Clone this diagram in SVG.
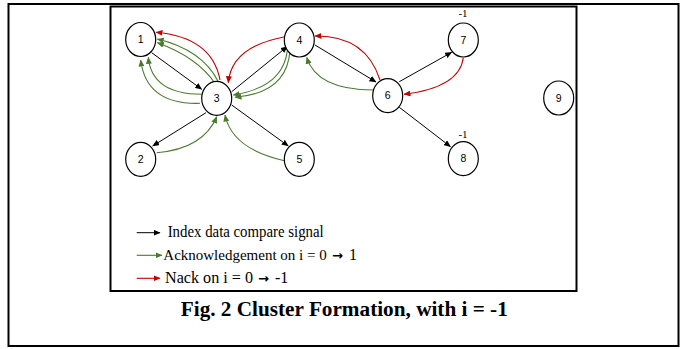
<svg xmlns="http://www.w3.org/2000/svg" width="686" height="349" viewBox="0 0 686 349">
<defs>
<style>
.node ellipse{fill:#fff;stroke:#000;stroke-width:1.2}
.node text{font-family:"Liberation Sans",Arial,sans-serif;font-size:10.5px;fill:#000;text-anchor:middle}
.node text.lbl{font-family:"Liberation Serif","Times New Roman",serif;font-size:11px}
.blk{stroke:#000;stroke-width:1;fill:none;marker-end:url(#ab)}
.grn{stroke:#4a7a2e;stroke-width:1.1;fill:none;marker-end:url(#ag)}
.red{stroke:#c00000;stroke-width:1.1;fill:none;marker-end:url(#ar)}
.leg{font-family:"Liberation Serif","Times New Roman",serif;font-size:16px;fill:#000}
.leg15{font-family:"Liberation Serif","Times New Roman",serif;font-size:15px;fill:#000}
.arw{font-family:"DejaVu Sans",sans-serif;font-weight:bold;font-size:13px;fill:#000}
.cap{font-family:"Liberation Serif","Times New Roman",serif;font-size:20px;font-weight:bold;fill:#000;text-anchor:middle}
</style>
<marker id="ab" markerUnits="userSpaceOnUse" markerWidth="7" markerHeight="6" refX="6.5" refY="3" orient="auto"><path d="M0,0 L7,3 L0,6 z" fill="#000"/></marker>
<marker id="ag" markerUnits="userSpaceOnUse" markerWidth="7" markerHeight="6" refX="6.5" refY="3" orient="auto"><path d="M0,0 L7,3 L0,6 z" fill="#4a7a2e"/></marker>
<marker id="ar" markerUnits="userSpaceOnUse" markerWidth="7" markerHeight="6" refX="6.5" refY="3" orient="auto"><path d="M0,0 L7,3 L0,6 z" fill="#c00000"/></marker>
</defs>
<rect x="0" y="0" width="686" height="349" fill="#fff"/>
<rect x="8.5" y="4" width="670" height="342" fill="none" stroke="#000" stroke-width="2"/>
<rect x="110.5" y="6.5" width="466" height="284.5" fill="none" stroke="#000" stroke-width="2"/>

<g id="connectors">
<path class="blk" d="M151.7,52.7 L201.7,89.3"/>
<path class="blk" d="M231.7,91.7 L287.3,46.5"/>
<path class="blk" d="M206,112.7 L152.7,146"/>
<path class="blk" d="M231.7,105 L288.3,146"/>
<path class="blk" d="M315,45 L376,82"/>
<path class="blk" d="M399.3,81.7 L451.7,52.3"/>
<path class="blk" d="M399.3,107.3 L450.5,146.7"/>
<path class="red" d="M220,80 Q212,37.3 156,32.3"/>
<path class="red" d="M285,36.7 Q231.4,46.7 228.3,82.7"/>
<path class="red" d="M380,80 Q365.8,35.3 315,36"/>
<path class="red" d="M463.3,57.7 Q459.7,87.3 404,94.3"/>
<path class="grn" d="M218.3,81.7 Q202.2,49.7 157.3,39"/>
<path class="grn" d="M215,83.3 Q197.1,57 157.3,42.7"/>
<path class="grn" d="M201.7,94.3 Q151.7,94.2 148.3,57.3"/>
<path class="grn" d="M200,103.3 Q146.3,105 140.7,60"/>
<path class="grn" d="M290,50 Q287.5,93 235,97.3"/>
<path class="grn" d="M287.3,50.7 Q283,87.1 233.3,95"/>
<path class="grn" d="M156.7,152.7 Q203.3,148.7 216.7,116.7"/>
<path class="grn" d="M284.3,160.7 Q232,148.9 225,115"/>
<path class="grn" d="M373.3,90 Q316.7,89.7 306.7,57.3"/>
</g>

<g id="n1" class="node"><ellipse cx="140.7" cy="39.5" rx="15" ry="17"/><text x="140.7" y="43">1</text></g>
<g id="n2" class="node"><ellipse cx="140.7" cy="159.3" rx="15" ry="17"/><text x="140.7" y="163">2</text></g>
<g id="n3" class="node"><ellipse cx="216.7" cy="98.3" rx="15" ry="17"/><text x="216.7" y="102">3</text></g>
<g id="n4" class="node"><ellipse cx="299.3" cy="40" rx="15" ry="17"/><text x="299.3" y="43.5">4</text></g>
<g id="n5" class="node"><ellipse cx="299.3" cy="159.3" rx="15" ry="17"/><text x="299.3" y="163">5</text></g>
<g id="n6" class="node"><ellipse cx="387.7" cy="95.7" rx="15" ry="17"/><text x="387.7" y="99.3">6</text></g>
<g id="n7" class="node"><ellipse cx="463.3" cy="40" rx="15" ry="17"/><text x="463.3" y="43.5">7</text><text class="lbl" x="463" y="17">-1</text></g>
<g id="n8" class="node"><ellipse cx="463.3" cy="158.7" rx="15" ry="17"/><text x="463.3" y="162.3">8</text><text class="lbl" x="463" y="138">-1</text></g>
<g id="n9" class="node"><ellipse cx="558.7" cy="98" rx="15" ry="17"/><text x="558.7" y="101.5">9</text></g>

<g id="legend">
<line x1="136.7" y1="232.7" x2="160" y2="232.7" stroke="#000" stroke-width="1" marker-end="url(#ab)"/>
<text class="leg" x="167.7" y="237" textLength="156" lengthAdjust="spacingAndGlyphs">Index data compare signal</text>
<line x1="136.7" y1="255.3" x2="162" y2="255.3" stroke="#4a7a2e" stroke-width="1.1" marker-end="url(#ag)"/>
<text class="leg15" x="163.3" y="260">Acknowledgement on i = 0</text>
<text class="arw" x="332" y="259.5">→</text>
<text class="leg" x="349" y="260">1</text>
<line x1="136.7" y1="278.3" x2="160" y2="278.3" stroke="#c00000" stroke-width="1.1" marker-end="url(#ar)"/>
<text class="leg" x="165" y="283" textLength="88" lengthAdjust="spacingAndGlyphs">Nack on i = 0</text>
<text class="arw" x="258" y="282.5">→</text>
<text class="leg" x="275" y="283">-1</text>
</g>

<text class="cap" x="344.3" y="315.5" textLength="327" lengthAdjust="spacingAndGlyphs">Fig. 2 Cluster Formation, with i = -1</text>
</svg>
